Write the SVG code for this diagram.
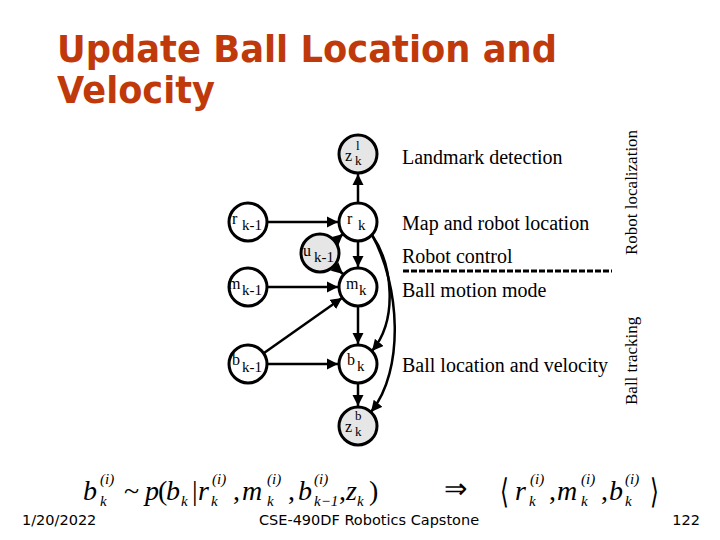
<svg xmlns="http://www.w3.org/2000/svg" width="720" height="540" viewBox="0 0 720 540">
<style>
.title{font-family:"DejaVu Sans",sans-serif;font-weight:bold;font-size:38px;fill:#C0390B}
.node{fill:#fff;stroke:#000;stroke-width:3}
.obs{fill:#e6e6e6;stroke:#000;stroke-width:3}
.nl{font-family:"Liberation Serif","Times New Roman",serif;font-size:16px;fill:#000}
.ns{font-family:"Liberation Serif","Times New Roman",serif;font-size:15px;fill:#000}
.nt{font-family:"Liberation Serif","Times New Roman",serif;font-size:13px;fill:#000}
.lab{font-family:"Liberation Serif","Times New Roman",serif;font-size:20px;fill:#000}
.vlab{font-family:"Liberation Serif","Times New Roman",serif;font-size:17px;fill:#000}
.foot{font-family:"DejaVu Sans",sans-serif;font-size:14.5px;fill:#000}
.edge{fill:none;stroke:#000;stroke-width:2.5}
.m{font-family:"Liberation Serif","Times New Roman",serif;font-style:italic;font-size:28px;fill:#000}
.mn{font-family:"Liberation Serif","Times New Roman",serif;font-size:28px;fill:#000}
.ms{font-family:"Liberation Serif","Times New Roman",serif;font-style:italic;font-size:15px;fill:#000}
</style>
<defs>
<marker id="ah" viewBox="0 0 10 10" refX="10" refY="5" markerWidth="4.5" markerHeight="4.5" orient="auto" markerUnits="strokeWidth">
<path d="M0,0 L10,5 L0,10 z" fill="#000"/>
</marker>
</defs>
<rect width="720" height="540" fill="#fff"/>
<text class="title" x="57" y="62" textLength="500" lengthAdjust="spacingAndGlyphs">Update Ball Location and</text>
<text class="title" x="57" y="103" textLength="158" lengthAdjust="spacingAndGlyphs">Velocity</text>

<g id="connectors">
<line class="edge" x1="267" y1="222" x2="338" y2="222" marker-end="url(#ah)"/>
<line class="edge" x1="358" y1="203" x2="358" y2="174" marker-end="url(#ah)"/>
<line class="edge" x1="335" y1="241" x2="343" y2="234" marker-end="url(#ah)"/>
<line class="edge" x1="334" y1="266" x2="343" y2="274" marker-end="url(#ah)"/>
<line class="edge" x1="358" y1="241" x2="358" y2="267" marker-end="url(#ah)"/>
<line class="edge" x1="267" y1="287" x2="338" y2="287" marker-end="url(#ah)"/>
<line class="edge" x1="264" y1="353" x2="342" y2="298" marker-end="url(#ah)"/>
<line class="edge" x1="267" y1="364" x2="338" y2="364" marker-end="url(#ah)"/>
<line class="edge" x1="358" y1="306" x2="358" y2="344" marker-end="url(#ah)"/>
<line class="edge" x1="358" y1="383" x2="358" y2="406" marker-end="url(#ah)"/>
<path class="edge" d="M372,235 C393,265 398,320 372,351" marker-end="url(#ah)"/>
<path class="edge" d="M372,235 C400,285 405,370 371,412" marker-end="url(#ah)"/>
</g>

<g id="z_l"><circle class="obs" cx="358" cy="154" r="19"/><text class="nl" x="345" y="161">z</text><text class="nt" x="356" y="150">l</text><text class="nt" x="355" y="165">k</text></g>
<g id="r_km1"><circle class="node" cx="248" cy="222" r="19"/><text class="nl" x="232" y="224">r</text><text class="ns" x="242" y="230">k-1</text></g>
<g id="r_k"><circle class="node" cx="358" cy="222" r="19"/><text class="nl" x="347" y="224">r</text><text class="ns" x="358" y="230">k</text></g>
<g id="u_km1"><circle class="obs" cx="320" cy="253" r="19"/><text class="nl" x="303" y="256">u</text><text class="ns" x="314" y="262">k-1</text></g>
<g id="m_km1"><circle class="node" cx="248" cy="287" r="19"/><text class="nl" x="228" y="289">m</text><text class="ns" x="242" y="295">k-1</text></g>
<g id="m_k"><circle class="node" cx="358" cy="287" r="19"/><text class="nl" x="346" y="289">m</text><text class="ns" x="359" y="295">k</text></g>
<g id="b_km1"><circle class="node" cx="248" cy="364" r="19"/><text class="nl" x="232" y="365">b</text><text class="ns" x="242" y="372">k-1</text></g>
<g id="b_k"><circle class="node" cx="358" cy="364" r="19"/><text class="nl" x="347" y="365">b</text><text class="ns" x="357" y="371">k</text></g>
<g id="z_b"><circle class="obs" cx="358" cy="426" r="19"/><text class="nl" x="345" y="432">z</text><text class="nt" x="355" y="420">b</text><text class="nt" x="355" y="436">k</text></g>

<g id="labels">
<text class="lab" x="402" y="164">Landmark detection</text>
<text class="lab" x="402" y="230">Map and robot location</text>
<text class="lab" x="402" y="263">Robot control</text>
<line x1="403" y1="271" x2="612" y2="271" stroke="#000" stroke-width="3" stroke-dasharray="6,2"/>
<text class="lab" x="402" y="297">Ball motion mode</text>
<text class="lab" x="402" y="372">Ball location and velocity</text>
<text class="vlab" transform="translate(637,255) rotate(-90)">Robot localization</text>
<text class="vlab" transform="translate(637,405) rotate(-90)">Ball tracking</text>
</g>

<g id="formula">
<text class="m" x="83" y="500">b</text><text class="ms" x="100" y="484">(i)</text><text class="ms" x="100" y="506">k</text>
<text class="mn" x="124" y="500">~</text>
<text class="m" x="145" y="500">p</text><text class="mn" x="158" y="500">(</text><text class="m" x="166" y="500">b</text><text class="ms" x="181" y="506">k</text>
<text class="mn" x="192" y="500">|</text>
<text class="m" x="198" y="500">r</text><text class="ms" x="212" y="484">(i)</text><text class="ms" x="211" y="506">k</text>
<text class="mn" x="233" y="500">,</text>
<text class="m" x="242" y="500">m</text><text class="ms" x="267" y="484">(i)</text><text class="ms" x="267" y="506">k</text>
<text class="mn" x="288" y="500">,</text>
<text class="m" x="298" y="500">b</text><text class="ms" x="314" y="484">(i)</text><text class="ms" x="314" y="506" font-size="14">k−1</text>
<text class="mn" x="339" y="500">,</text>
<text class="m" x="346" y="500">z</text><text class="ms" x="357" y="506">k</text>
<text class="mn" x="369" y="500">)</text>
<text class="mn" x="444" y="498" font-size="30">⇒</text>
<text class="mn" x="500" y="502" font-size="44" transform="translate(500,495) scale(0.8,1.2) translate(-500,-495)">⟨</text>
<text class="m" x="515" y="500">r</text><text class="ms" x="530" y="484">(i)</text><text class="ms" x="529" y="506">k</text>
<text class="mn" x="549" y="500">,</text>
<text class="m" x="557" y="500">m</text><text class="ms" x="581" y="484">(i)</text><text class="ms" x="581" y="506">k</text>
<text class="mn" x="601" y="500">,</text>
<text class="m" x="609" y="500">b</text><text class="ms" x="625" y="484">(i)</text><text class="ms" x="625" y="506">k</text>
<text class="mn" x="650" y="502" font-size="44" transform="translate(650,495) scale(0.8,1.2) translate(-650,-495)">⟩</text>
</g>

<g id="footer">
<text class="foot" x="22" y="525">1/20/2022</text>
<text class="foot" x="369" y="525" text-anchor="middle">CSE-490DF Robotics Capstone</text>
<text class="foot" x="700" y="525" text-anchor="end">122</text>
</g>
</svg>
